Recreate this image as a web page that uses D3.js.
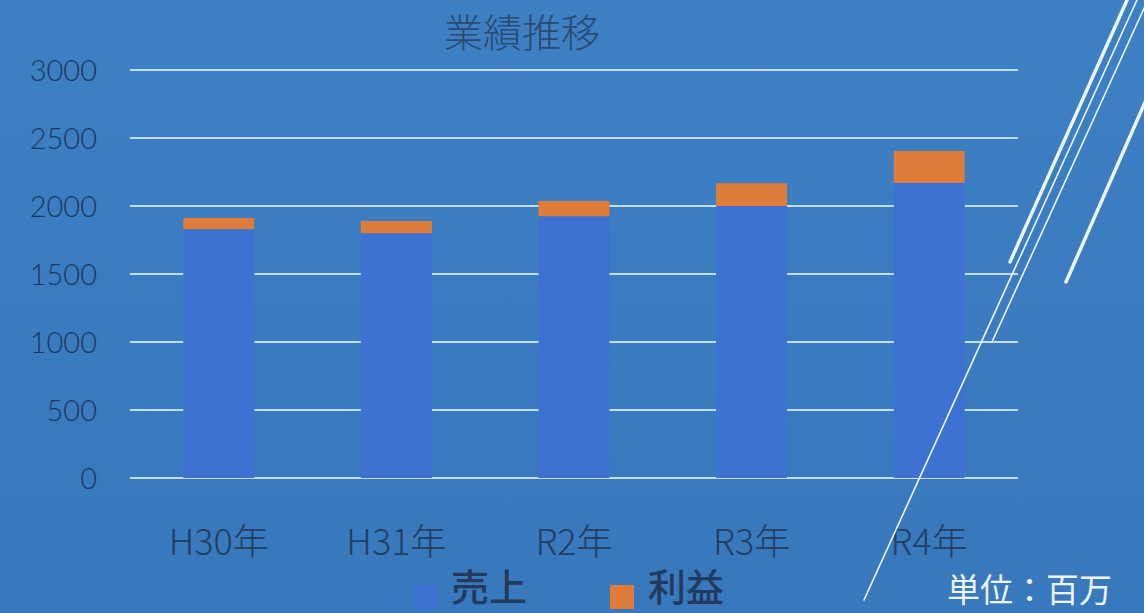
<!DOCTYPE html>
<html><head><meta charset="utf-8">
<script src="https://cdn.jsdelivr.net/npm/d3@7"></script>
<style>html,body{margin:0;padding:0;overflow:hidden;background:#3a7bbf}</style>
</head><body>
<svg id="c" width="1144" height="613"></svg>
<script>
const categories = ["H30年","H31年","R2年","R3年","R4年"];
const sales = [1830, 1800, 1925, 2000, 2170];
const profit = [82, 90, 112, 168, 235];
const yTicks = [0, 500, 1000, 1500, 2000, 2500, 3000];
const seriesNames = ["売上","利益"];
const title = "業績推移";
const unitLabel = "単位：百万";

const W = 1144, H = 613;
const svg = d3.select("#c");
const defs = svg.append("defs");
const g = defs.append("linearGradient").attr("id","bg").attr("x1",0).attr("y1",0).attr("x2",0).attr("y2",1);
g.append("stop").attr("offset","0%").attr("stop-color","#3d80c3");
g.append("stop").attr("offset","100%").attr("stop-color","#3878bc");
svg.append("rect").attr("width",W).attr("height",H).attr("fill","url(#bg)");

const x = d3.scaleBand().domain(categories).range([130,1018]).paddingInner(0.6).paddingOuter(0.3);
const y = d3.scaleLinear().domain([0,3000]).range([478,70]);

// gridlines
svg.append("g").selectAll("line").data(yTicks).join("line")
  .attr("x1",130).attr("x2",1018)
  .attr("y1",d=>y(d)).attr("y2",d=>y(d))
  .attr("stroke","#c4ddf3").attr("stroke-width",2);

// y labels
const yAxis = d3.axisLeft(y).tickValues(yTicks).tickFormat(d3.format("d")).tickSize(0).tickPadding(0);
const ya = svg.append("g").attr("transform","translate(97,0)").call(yAxis);
ya.select(".domain").remove();
ya.selectAll("text").attr("font-family","Lato, 'Open Sans', sans-serif").attr("font-weight",300)
  .attr("font-size",29).attr("fill","#1b3862").attr("dy","0.35em");

// stacked data
const data = categories.map((c,i)=>({cat:c, s:sales[i], p:profit[i]}));
const stack = d3.stack().keys(["s","p"])(data);
const colors = ["#3d72d2","#e07c3a"];
svg.append("g").selectAll("g").data(stack).join("g").attr("fill",(d,i)=>colors[i])
  .selectAll("rect").data(d=>d).join("rect")
  .attr("x",d=>x(d.data.cat)).attr("width",x.bandwidth())
  .attr("y",d=>y(d[1])).attr("height",d=>y(d[0])-y(d[1]));

// x labels
const xAxis = d3.axisBottom(x).tickSize(0).tickPadding(0);
const xa = svg.append("g").attr("transform","translate(0,542)").call(xAxis);
xa.select(".domain").remove();
xa.selectAll("text").attr("font-family","'Noto Sans CJK JP', sans-serif").attr("font-weight",300)
  .attr("font-size",36).attr("fill","#223e63").attr("dy","0.35em");

// title
svg.append("text").attr("x",522).attr("y",47).attr("text-anchor","middle")
  .attr("font-family","'Noto Sans CJK JP', sans-serif").attr("font-weight",300)
  .attr("font-size",39).attr("fill","#2b4a70").text(title);

// legend
const legX = [413, 610];
const lg = svg.append("g");
seriesNames.forEach((n,i)=>{
  lg.append("rect").attr("x",legX[i]).attr("y",585).attr("width",24).attr("height",24).attr("fill",colors[i]);
  lg.append("text").attr("x",legX[i]+38).attr("y",601)
    .attr("font-family","'Noto Sans CJK JP', sans-serif").attr("font-weight",500)
    .attr("font-size",38).attr("fill","#233a5c").text(n);
});

// unit label
svg.append("text").attr("x",1112).attr("y",602).attr("text-anchor","end")
  .attr("font-family","'Noto Sans CJK JP', sans-serif").attr("font-weight",400)
  .attr("font-size",33).attr("fill","#eef4fb").text(unitLabel);

// decorative lines
const deco = svg.append("g").attr("stroke","#eef5fc").attr("stroke-linecap","round").attr("fill","none");
deco.append("line").attr("x1",1128).attr("y1",-2).attr("x2",1010).attr("y2",262).attr("stroke-width",3.5);
deco.append("line").attr("x1",1066).attr("y1",282).attr("x2",1146).attr("y2",100).attr("stroke-width",3.5);
deco.append("line").attr("x1",1137).attr("y1",0).attr("x2",864).attr("y2",600).attr("stroke-width",1.6);
deco.append("line").attr("x1",1146).attr("y1",4).attr("x2",992).attr("y2",342).attr("stroke-width",1.6);
</script>
</body></html>
